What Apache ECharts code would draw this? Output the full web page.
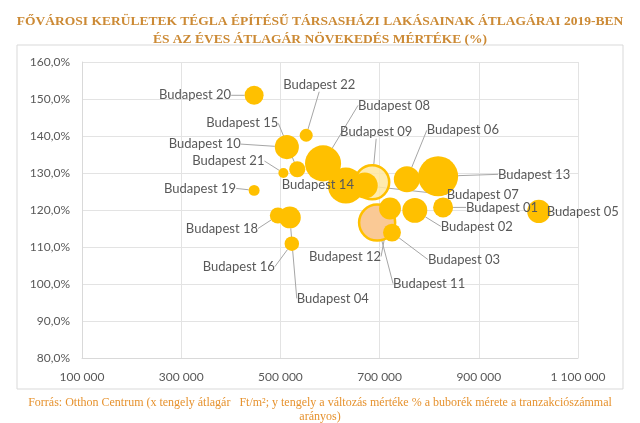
<!DOCTYPE html>
<html>
<head>
<meta charset="utf-8">
<script src="https://cdn.jsdelivr.net/npm/echarts@6/dist/echarts.min.js"></script>
<style>html,body{margin:0;padding:0;background:#fff}#c{width:640px;height:423px}</style>
</head>
<body>
<div id="c"></div>
<script>
// Drawing order (later items are drawn on top)
const districts = ['Budapest 20','Budapest 22','Budapest 15','Budapest 10','Budapest 21','Budapest 19','Budapest 18','Budapest 04','Budapest 16','Budapest 08','Budapest 14','Budapest 09','Budapest 07','Budapest 06','Budapest 13','Budapest 01','Budapest 02','Budapest 11','Budapest 12','Budapest 03','Budapest 05'];
// average price, Ft/m2
const avgPrice = [447000, 552000, 534000, 513000, 506000, 447000, 495000, 519000, 523000, 586000, 632000, 685000, 670000, 755000, 818000, 828000, 771000, 695000, 721000, 725000, 1021000];
// yearly price change, %
const changePct = [151.0, 140.2, 131.0, 137.0, 130.0, 125.3, 118.5, 118.0, 110.9, 132.6, 126.6, 127.5, 126.6, 128.3, 129.1, 120.7, 119.9, 116.6, 120.4, 113.9, 119.6];
// number of transactions (bubble size)
const transactions = [180, 85, 130, 290, 50, 60, 130, 240, 105, 650, 650, 580, 340, 340, 800, 200, 310, 650, 240, 160, 270];

const xTicks = [100000, 300000, 500000, 700000, 900000, 1100000];
const yTicks = [80, 90, 100, 110, 120, 130, 140, 150, 160];

// label offsets (layout only)
const labelOffsets = {
  'Budapest 20': [-59, 0], 'Budapest 22': [13, -50], 'Budapest 08': [71, -58], 'Budapest 15': [-55, -46],
  'Budapest 09': [4, -50], 'Budapest 06': [56, -49], 'Budapest 10': [-82, -3], 'Budapest 21': [-55, -12],
  'Budapest 13': [96, -2], 'Budapest 14': [-28, -1], 'Budapest 07': [118, 9], 'Budapest 19': [-54, -2],
  'Budapest 01': [59, 0], 'Budapest 05': [44, 0], 'Budapest 18': [-56, 13], 'Budapest 02': [62, 16],
  'Budapest 12': [-45, 48], 'Budapest 03': [72, 27], 'Budapest 16': [-53, 23], 'Budapest 11': [52, 61],
  'Budapest 04': [43, 81]
};
const specialStyle = {
  'Budapest 09': {color: 'rgba(255,232,160,0.85)', borderColor: '#FFC000', borderWidth: 2.5},
  'Budapest 11': {color: '#FAC995', borderColor: '#FFC000', borderWidth: 2.5}
};

const data = districts.map((n, i) => {
  const d = {name: n, value: [avgPrice[i], changePct[i], transactions[i]]};
  if (specialStyle[n]) d.itemStyle = specialStyle[n];
  return d;
});

const fmtNum = v => String(v).replace(/\B(?=(\d{3})+(?!\d))/g, ' ');

const chart = echarts.init(document.getElementById('c'), null, {renderer: 'canvas'});
chart.setOption({
  animation: false,
  backgroundColor: '#fff',
  title: [{
    text: 'FŐVÁROSI KERÜLETEK TÉGLA ÉPÍTÉSŰ TÁRSASHÁZI LAKÁSAINAK ÁTLAGÁRAI 2019-BEN\nÉS AZ ÉVES ÁTLAGÁR NÖVEKEDÉS MÉRTÉKE (%)',
    left: 'center', top: 8,
    textStyle: {fontFamily: 'Liberation Serif', fontSize: 13.5, fontWeight: 'bold', color: '#CC8A35', lineHeight: 18, align: 'center'}
  }, {
    text: 'Forrás: Otthon Centrum (x tengely átlagár   Ft/m²; y tengely a változás mértéke % a buborék mérete a tranzakciószámmal\narányos)',
    left: 'center', top: 391,
    textStyle: {fontFamily: 'Liberation Serif', fontSize: 12, fontWeight: 'normal', color: '#E6922E', lineHeight: 14, align: 'center'}
  }],
  graphic: [{
    type: 'rect', shape: {x: 17, y: 45, width: 606, height: 344},
    style: {fill: 'none', stroke: '#D9D9D9', lineWidth: 1}, silent: true, z: -1
  }],
  grid: {left: 82, right: 62, top: 62, bottom: 65, containLabel: false},
  xAxis: {
    type: 'value', min: xTicks[0], max: xTicks[xTicks.length - 1], interval: 200000,
    axisLine: {show: true, lineStyle: {color: '#D9D9D9'}},
    axisTick: {show: false},
    splitLine: {show: true, lineStyle: {color: '#E3E3E3'}},
    axisLabel: {color: '#595959', fontFamily: 'Lato', fontSize: 12, margin: 13, formatter: v => fmtNum(v)}
  },
  yAxis: {
    type: 'value', min: yTicks[0], max: yTicks[yTicks.length - 1], interval: 10,
    axisLine: {show: true, lineStyle: {color: '#D9D9D9'}},
    axisTick: {show: false},
    splitLine: {show: true, lineStyle: {color: '#E3E3E3'}},
    axisLabel: {color: '#595959', fontFamily: 'Lato', fontSize: 12, margin: 12, formatter: v => v.toFixed(1).replace('.', ',') + '%'}
  },
  series: [{
    type: 'scatter',
    data: data,
    symbolSize: v => Math.sqrt(2 * v[2]),
    itemStyle: {color: '#FFC000', opacity: 1},
    label: {
      show: true, position: 'inside', formatter: p => p.name,
      color: '#595959', fontFamily: 'Lato', fontSize: 13
    },
    labelLine: {show: true, lineStyle: {color: '#A6A6A6', width: 1}},
    labelLayout: p => {
      const o = labelOffsets[data[p.dataIndex].name] || [0, 0];
      return {dx: o[0], dy: o[1]};
    },
    emphasis: {disabled: true}
  }]
});
</script>
</body>
</html>
